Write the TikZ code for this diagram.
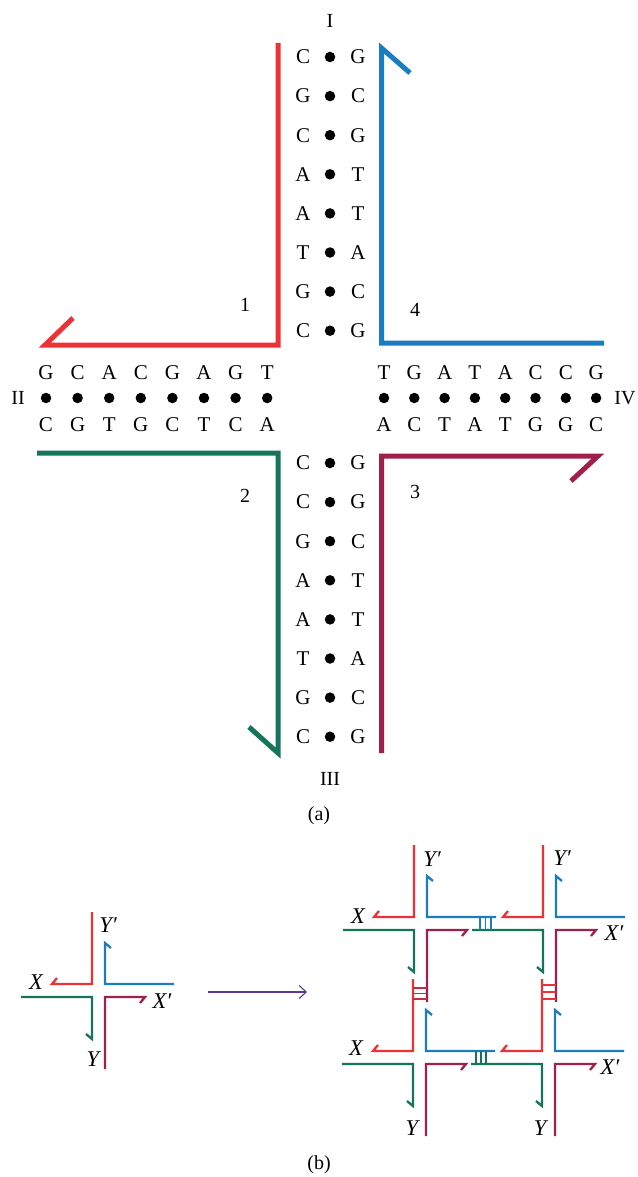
\documentclass[tikz,border=0pt]{standalone}
\usepackage{fontspec}
\setmainfont{Liberation Serif}
\usetikzlibrary{arrows.meta}
\definecolor{sred}{HTML}{ED3237}
\definecolor{sblue}{HTML}{1B7DC1}
\definecolor{sgreen}{HTML}{15755B}
\definecolor{smaroon}{HTML}{9F214B}
\definecolor{sarrow}{HTML}{5B3A8E}
\newcommand\mkjunc[2]{%
  \begin{scope}[shift={(#1,#2)}]
    \draw[thin strand, sred] (-35,-6) -- (-40,0) -- (0,0) -- (0,-72);
    \draw[thin strand, sblue] (19,-36) -- (13,-41) -- (13,0) -- (82,0);
    \draw[thin strand, sgreen] (-71,13) -- (0,13) -- (0,55) -- (-6,50);
    \draw[thin strand, smaroon] (48,19) -- (53,13) -- (13,13) -- (13,85);
  \end{scope}}
\begin{document}
\begin{tikzpicture}[x=1pt,y=-1pt,
  big strand/.style={line width=5pt,miter limit=20},
  thin strand/.style={line width=2.3pt,miter limit=20},
  base/.style={font=\fontsize{21}{21}\selectfont, inner sep=0pt},
  lbl/.style={font=\fontsize{20}{20}\selectfont, inner sep=0pt},
  ital/.style={font=\fontsize{22.5}{22.5}\selectfont\itshape, inner sep=0pt},
  bdot/.style={circle, fill=black, minimum size=10.5pt, inner sep=0pt},
  rung/.style={line width=1.1pt}]
\useasboundingbox (0,0) rectangle (637,1177);

% ---------- (a) ----------
\foreach \l/\r [count=\i from 0] in {C/G,G/C,C/G,A/T,A/T,T/A,G/C,C/G} {
  \node[base] (ul\i) at (303,{57+39.1*\i}) {\l};
  \node[bdot] (ud\i) at (330,{57+39.1*\i}) {};
  \node[base] (ur\i) at (358,{57+39.1*\i}) {\r};
}
\foreach \l/\r [count=\i from 0] in {C/G,C/G,G/C,A/T,A/T,T/A,G/C,C/G} {
  \node[base] (dl\i) at (303,{463+39.1*\i}) {\l};
  \node[bdot] (dd\i) at (330,{463+39.1*\i}) {};
  \node[base] (dr\i) at (358,{463+39.1*\i}) {\r};
}
\foreach \t/\b [count=\j from 0] in {G/C,C/G,A/T,C/G,G/C,A/T,G/C,T/A} {
  \node[base] (lt\j) at ({46+31.6*\j},373) {\t};
  \node[bdot] (ld\j) at ({46+31.6*\j},398) {};
  \node[base] (lb\j) at ({46+31.6*\j},425) {\b};
}
\foreach \t/\b [count=\j from 0] in {T/A,G/C,A/T,T/A,A/T,C/G,C/G,G/C} {
  \node[base] (rt\j) at ({384+30.3*\j},373) {\t};
  \node[bdot] (rd\j) at ({384+30.3*\j},398) {};
  \node[base] (rb\j) at ({384+30.3*\j},425) {\b};
}
\node[lbl] (armI) at (330,21) {I};
\node[lbl] (armII) at (18,398) {II};
\node[lbl] (armIII) at (330,779) {III};
\node[lbl] (armIV) at (625,398) {IV};
\node[lbl] (n1) at (245,305) {1};
\node[lbl] (n4) at (415,310) {4};
\node[lbl] (n2) at (245,496) {2};
\node[lbl] (n3) at (415,492) {3};
\node[lbl] (capa) at (319,816) {(a)};

\draw[big strand, sred] (73,318) -- (45,345) -- (278,345) -- (278,43);
\draw[big strand, sblue] (410,73) -- (381.5,48) -- (381.5,343) -- (604,343);
\draw[big strand, sgreen] (37,453) -- (278,453) -- (278,753) -- (249,727);
\draw[big strand, smaroon] (381.5,753) -- (381.5,456) -- (598,456) -- (571,481);

% ---------- (b) ----------
\mkjunc{92}{984}
\node[ital] (sY1) at (108,925) {Y′};
\node[ital] (sX) at (36,982) {X};
\node[ital] (sX1) at (162,1001) {X′};
\node[ital] (sY) at (93,1059) {Y};
\coordinate (arA) at (208,992);
\coordinate (arB) at (307,992);
\draw[sarrow, line width=1.1pt, -{Straight Barb[length=7pt,width=13pt]}] (arA) -- (arB);

\mkjunc{414}{917}
\mkjunc{543}{917}
\mkjunc{413}{1051}
\mkjunc{542}{1051}

% sticky-end rungs
\foreach \x in {480,485.5,491} \draw[rung, sblue] (\x,917) -- (\x,930);
\foreach \x in {476,481,486} \draw[rung, sgreen] (\x,1051) -- (\x,1064);
\foreach \y in {988,993.5,999} \draw[rung, sred!50!smaroon] (413,\y) -- (427,\y);
\foreach \y in {985,992,999} \draw[rung, sred] (542,\y) -- (556,\y);

\node[ital] (aX) at (358,916) {X};
\node[ital] (aY1) at (432,859) {Y′};
\node[ital] (bY1) at (562,858) {Y′};
\node[ital] (bX1) at (614,933) {X′};
\node[ital] (cX) at (356,1048) {X};
\node[ital] (cY) at (412,1128) {Y};
\node[ital] (dX1) at (610,1067) {X′};
\node[ital] (dY) at (540,1128) {Y};
\node[lbl] (capb) at (319,1165) {(b)};
\end{tikzpicture}
\end{document}
